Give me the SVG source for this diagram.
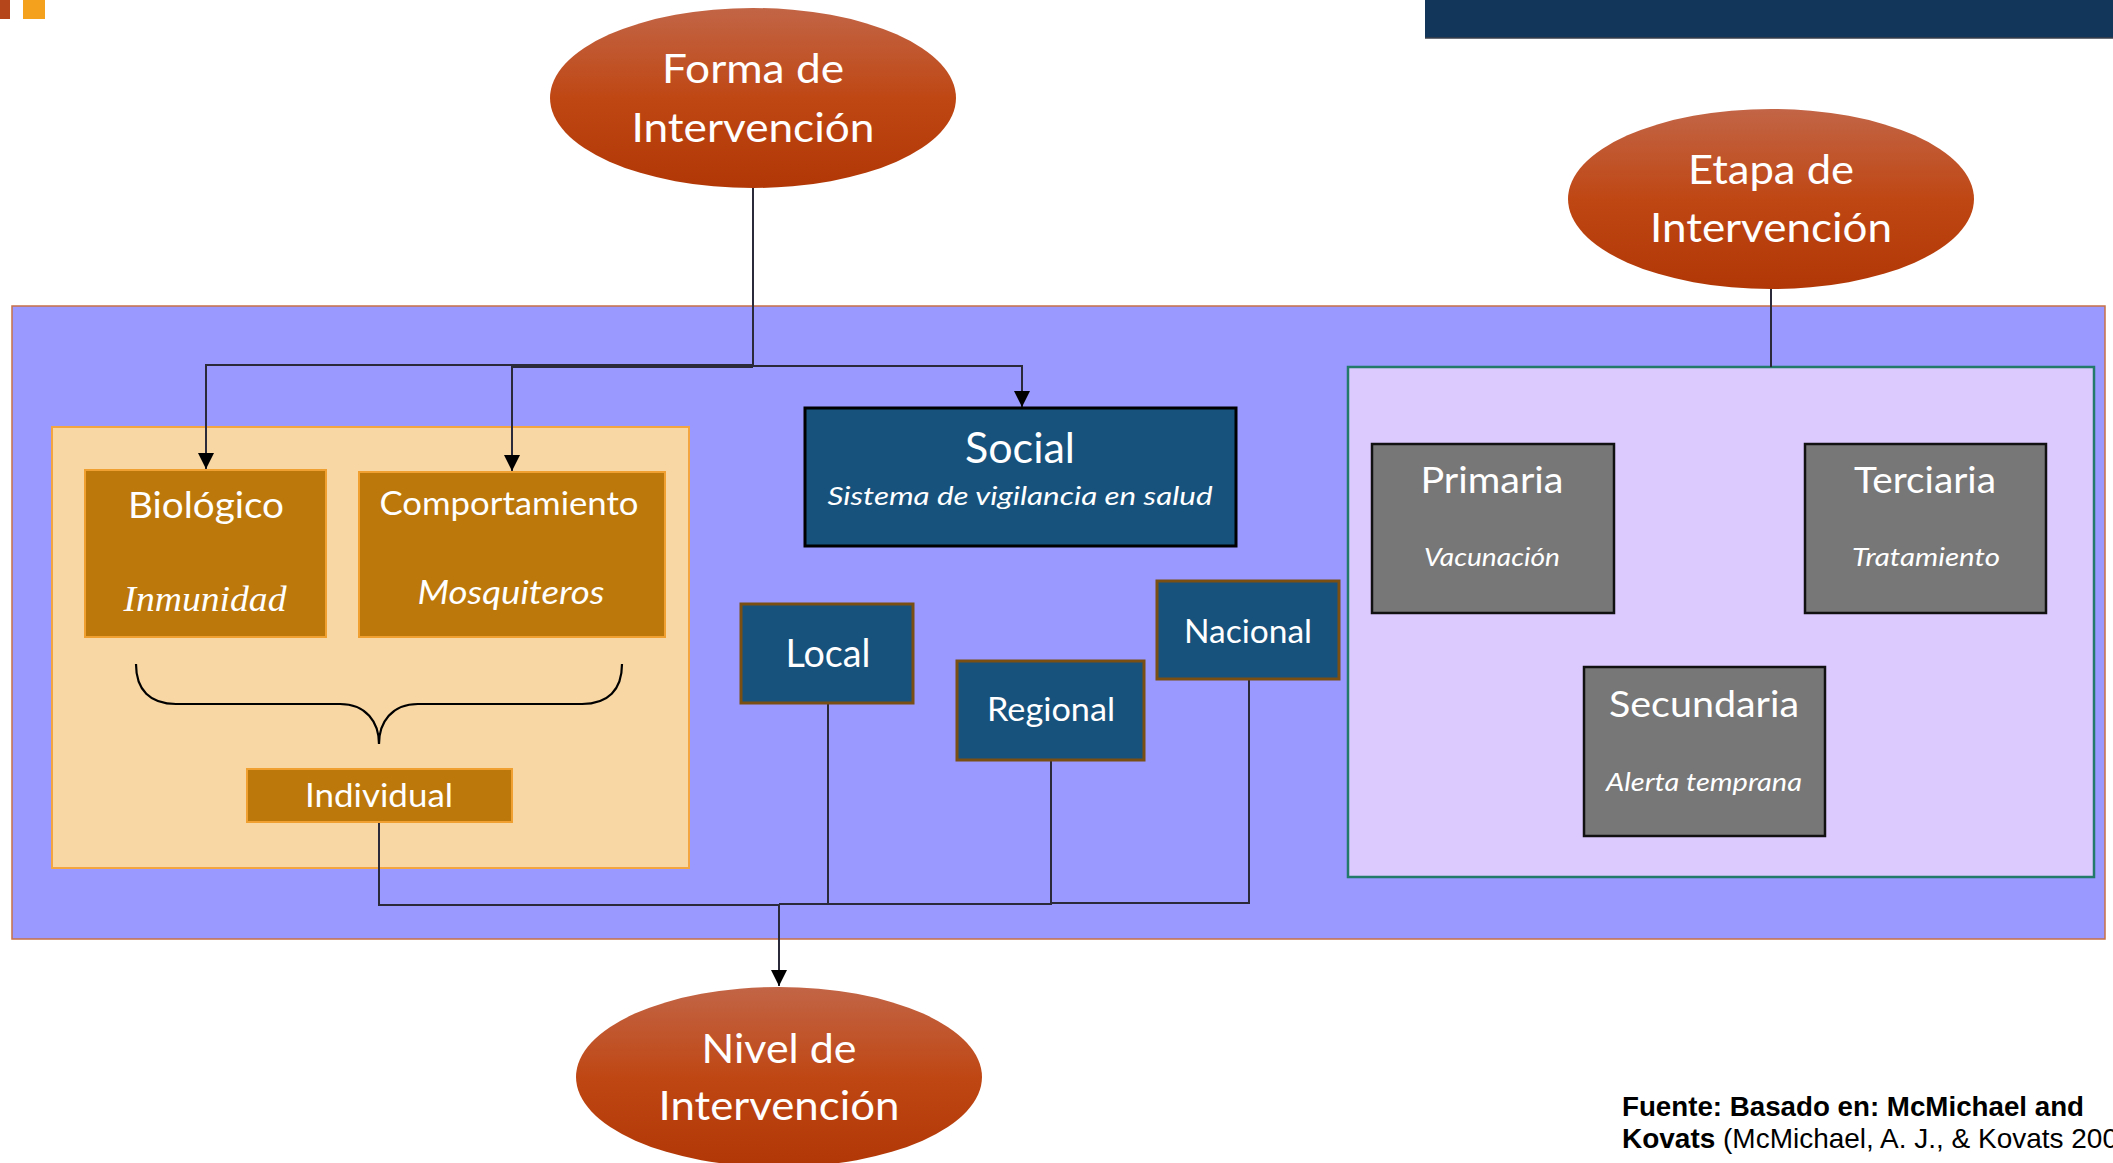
<svg xmlns="http://www.w3.org/2000/svg" width="2113" height="1163" viewBox="0 0 2113 1163">
<defs>
<linearGradient id="eg" x1="0" y1="0" x2="0" y2="1">
<stop offset="0" stop-color="#c26546"/>
<stop offset="0.5" stop-color="#bf4714"/>
<stop offset="1" stop-color="#b13806"/>
</linearGradient>
<marker id="arr" markerWidth="16" markerHeight="16" refX="16" refY="8" orient="auto" markerUnits="userSpaceOnUse">
<path d="M0,0 L16,8 L0,16 z" fill="#000"/>
</marker>
<style>
.t{font-family:Lato,"Open Sans","Liberation Sans",sans-serif;fill:#fff;text-anchor:middle}
.i{font-style:italic}
.ell{fill:url(#eg)}
.orb{fill:#bc780a;stroke:#f0a030;stroke-width:2}
.blu{fill:#17527d;stroke:#7a4f14;stroke-width:3}
.gry{fill:#777777;stroke:#111;stroke-width:2.5}
.con{fill:none;stroke:#2a2a3a;stroke-width:2}
.src{font-family:"Liberation Sans",Arial,sans-serif;font-size:27.5px;fill:#000}
</style>
</defs>

<g id="decor">
<rect x="0" y="0" width="10" height="19" fill="#b5451b"/>
<rect x="23" y="0" width="22" height="19" fill="#f4a11e"/>
<rect x="1425" y="0" width="688" height="38" fill="#11365a"/>
<line x1="1425" y1="38" x2="2113" y2="38" stroke="#3a3f4a" stroke-width="1.5"/>
</g>

<g id="main-panel">
<rect x="12" y="306" width="2093" height="633" fill="#9999ff" stroke="#c8704a" stroke-width="1.5"/>
</g>

<g id="individual-panel">
<rect x="52" y="427" width="637" height="441" fill="#f8d7a4" stroke="#f2a541" stroke-width="2"/>
</g>

<g id="etapa-panel">
<rect x="1348" y="367" width="746" height="510" fill="#dccaff" stroke="#237a6b" stroke-width="2.5"/>
</g>

<g id="connectors">
<path class="con" d="M753,188 V366"/>
<path class="con" d="M753,365 H206 V469" marker-end="url(#arr)"/>
<path class="con" d="M753,367 H512 V471" marker-end="url(#arr)"/>
<path class="con" d="M753,366 H1022 V407" marker-end="url(#arr)"/>
<path class="con" d="M1771,289 V367"/>
<path class="con" d="M379,822 V905 H779"/>
<path class="con" d="M828,703 V904 H779"/>
<path class="con" d="M1051,760 V904 H779"/>
<path class="con" d="M1249,679 V903 H1051"/>
<path class="con" d="M779,904 V986" marker-end="url(#arr)"/>
<path d="M136,664 C136,690 150,704 176,704 L340,704 C366,704 379,722 379,744 C379,722 392,704 418,704 L582,704 C608,704 622,690 622,664" fill="none" stroke="#000" stroke-width="2.2"/>
</g>

<g id="forma">
<ellipse class="ell" cx="753" cy="98" rx="203" ry="90"/>
<text class="t" x="753" y="83" font-size="40" textLength="182" lengthAdjust="spacingAndGlyphs">Forma de</text>
<text class="t" x="753" y="142" font-size="40" textLength="243" lengthAdjust="spacingAndGlyphs">Intervención</text>
</g>

<g id="etapa">
<ellipse class="ell" cx="1771" cy="199" rx="203" ry="90"/>
<text class="t" x="1771" y="184" font-size="40" textLength="166" lengthAdjust="spacingAndGlyphs">Etapa de</text>
<text class="t" x="1771" y="242" font-size="40" textLength="242" lengthAdjust="spacingAndGlyphs">Intervención</text>
</g>

<g id="nivel">
<ellipse class="ell" cx="779" cy="1077" rx="203" ry="90"/>
<text class="t" x="779" y="1063" font-size="40" textLength="155" lengthAdjust="spacingAndGlyphs">Nivel de</text>
<text class="t" x="779" y="1120" font-size="40" textLength="241" lengthAdjust="spacingAndGlyphs">Intervención</text>
</g>

<g id="biologico">
<rect class="orb" x="85" y="470" width="241" height="167"/>
<text class="t" x="206" y="518" font-size="36" textLength="156" lengthAdjust="spacingAndGlyphs">Biológico</text>
<text class="t i" x="205" y="611" font-size="36" style="font-family:'Liberation Serif','DejaVu Serif',serif" textLength="163" lengthAdjust="spacingAndGlyphs">Inmunidad</text>
</g>

<g id="comportamiento">
<rect class="orb" x="359" y="472" width="306" height="165"/>
<text class="t" x="509" y="515" font-size="32" textLength="259" lengthAdjust="spacingAndGlyphs">Comportamiento</text>
<text class="t i" x="511" y="604" font-size="32" textLength="187" lengthAdjust="spacingAndGlyphs">Mosquiteros</text>
</g>

<g id="individual">
<rect class="orb" x="247" y="769" width="265" height="53"/>
<text class="t" x="379" y="807" font-size="32" textLength="148" lengthAdjust="spacingAndGlyphs">Individual</text>
</g>

<g id="social">
<rect x="805" y="408" width="431" height="138" fill="#17527d" stroke="#000" stroke-width="3"/>
<text class="t" x="1020" y="463" font-size="43" textLength="110" lengthAdjust="spacingAndGlyphs">Social</text>
<text class="t i" x="1020" y="505" font-size="26" textLength="385" lengthAdjust="spacingAndGlyphs">Sistema de vigilancia en salud</text>
</g>

<g id="local">
<rect class="blu" x="741" y="604" width="172" height="99"/>
<text class="t" x="828" y="667" font-size="39" textLength="85" lengthAdjust="spacingAndGlyphs">Local</text>
</g>

<g id="regional">
<rect class="blu" x="957" y="661" width="187" height="99"/>
<text class="t" x="1051" y="721" font-size="32" textLength="128" lengthAdjust="spacingAndGlyphs">Regional</text>
</g>

<g id="nacional">
<rect class="blu" x="1157" y="581" width="182" height="98"/>
<text class="t" x="1248" y="643" font-size="32" textLength="128" lengthAdjust="spacingAndGlyphs">Nacional</text>
</g>

<g id="primaria">
<rect class="gry" x="1372" y="444" width="242" height="169"/>
<text class="t" x="1492" y="493" font-size="37" textLength="143" lengthAdjust="spacingAndGlyphs">Primaria</text>
<text class="t i" x="1492" y="566" font-size="25" textLength="136" lengthAdjust="spacingAndGlyphs">Vacunación</text>
</g>

<g id="terciaria">
<rect class="gry" x="1805" y="444" width="241" height="169"/>
<text class="t" x="1925" y="493" font-size="37" textLength="142" lengthAdjust="spacingAndGlyphs">Terciaria</text>
<text class="t i" x="1926" y="566" font-size="25" textLength="148" lengthAdjust="spacingAndGlyphs">Tratamiento</text>
</g>

<g id="secundaria">
<rect class="gry" x="1584" y="667" width="241" height="169"/>
<text class="t" x="1704" y="717" font-size="37" textLength="190" lengthAdjust="spacingAndGlyphs">Secundaria</text>
<text class="t i" x="1704" y="791" font-size="25" textLength="196" lengthAdjust="spacingAndGlyphs">Alerta temprana</text>
</g>

<g id="fuente">
<text class="src" x="1622" y="1116" font-weight="bold" textLength="462" lengthAdjust="spacingAndGlyphs">Fuente: Basado en: McMichael and</text>
<text class="src" x="1622" y="1148" textLength="496" lengthAdjust="spacingAndGlyphs"><tspan font-weight="bold">Kovats</tspan> (McMichael, A. J., &amp; Kovats 200</text>
</g>
</svg>
